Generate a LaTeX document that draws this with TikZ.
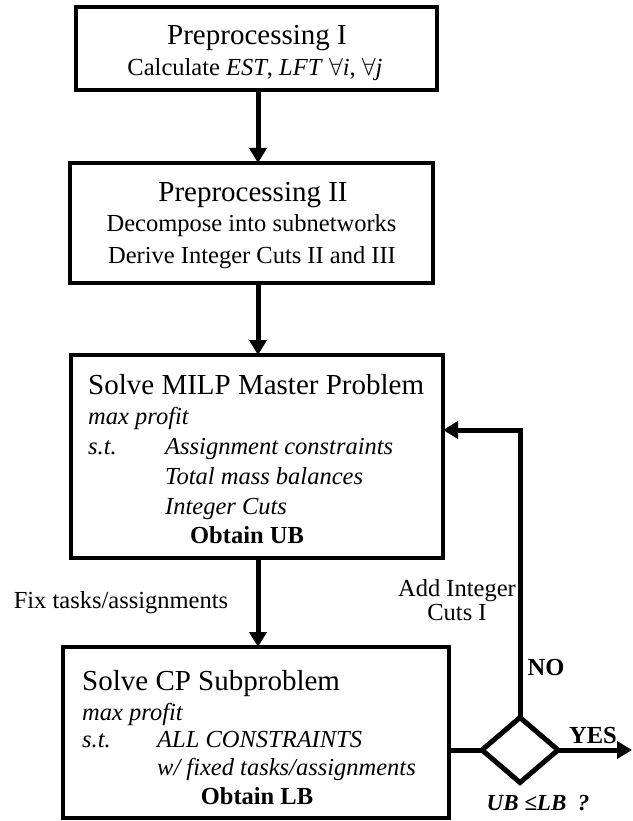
\documentclass[tikz,border=0pt]{standalone}
\usepackage{fontspec}
\setmainfont{Liberation Serif}
\usetikzlibrary{shapes.geometric,arrows.meta}
\begin{document}
\begin{tikzpicture}[x=1pt,y=-1pt,
  box/.style={draw, line width=4pt, inner sep=0pt, outer sep=0pt},
  ttl/.style={font=\fontsize{29}{34}\selectfont, inner sep=0pt, text height=19pt, text depth=0pt},
  txt/.style={font=\fontsize{24.5}{29}\selectfont, inner sep=0pt, text height=16pt, text depth=0pt},
  arr/.style={line width=5pt, -{Triangle[length=15pt,width=17pt]}},
  ln/.style={line width=5pt},
]
\useasboundingbox (0,0) rectangle (632,821);
% boxes
\node[box, minimum width=361pt, minimum height=83pt] (p1) at (256.5,48.5) {};
\node[box, minimum width=363pt, minimum height=120pt] (p2) at (251.5,223) {};
\node[box, minimum width=372pt, minimum height=203pt] (m3) at (257,456.5) {};
\node[box, minimum width=386pt, minimum height=171pt] (m4) at (256,732.5) {};
\node[shape=diamond, draw, line width=5pt, minimum width=76pt, minimum height=65pt, inner sep=0pt, outer sep=0pt] (dm) at (520,750) {};
% box 1 text
\node[ttl] (t1a) at (257,35) {Preprocessing I};
\node[txt] (t1b) at (255,68) {Calculate \textit{EST}, \textit{LFT} $\forall$\textit{i}, $\forall$\textit{j}};
% box 2 text
\node[ttl] (t2a) at (253,192) {Preprocessing II};
\node[txt] (t2b) at (251.5,223) {Decompose into subnetworks};
\node[txt] (t2c) at (252,255) {Derive Integer Cuts II and III};
% box 3 text
\node[ttl, anchor=west] (t3a) at (88,385) {Solve MILP Master Problem};
\node[txt, anchor=west] (t3b) at (88,416) {\itshape max profit};
\node[txt, anchor=west] (t3c) at (88,446) {\itshape s.t.};
\node[txt, anchor=west] (t3d) at (165,446) {\itshape Assignment constraints};
\node[txt, anchor=west] (t3e) at (165,476) {\itshape Total mass balances};
\node[txt, anchor=west] (t3f) at (165,506) {\itshape Integer Cuts};
\node[txt] (t3g) at (247,535) {\bfseries Obtain UB};
% box 4 text
\node[ttl, anchor=west] (t4a) at (82,681) {Solve CP Subproblem};
\node[txt, anchor=west] (t4b) at (82,712) {\itshape max profit};
\node[txt, anchor=west] (t4c) at (82,739) {\itshape s.t.};
\node[txt, anchor=west] (t4d) at (157,739) {\itshape ALL CONSTRAINTS};
\node[txt, anchor=west] (t4e) at (157,767) {\itshape w/ fixed tasks/assignments};
\node[txt] (t4f) at (257,796) {\bfseries Obtain LB};
% labels
\node[txt] (lfix) at (121,600) {Fix tasks/assignments};
\node[font=\fontsize{24.5}{24}\selectfont, inner sep=0pt, align=center, anchor=north] (ladd) at (457,579) {Add Integer\\Cuts I};
\node[txt] (lno) at (546,667) {\bfseries NO};
\node[txt] (lyes) at (593,735) {\bfseries YES};
\node[font=\fontsize{23}{27}\selectfont\bfseries\itshape, inner sep=0pt, text height=15pt, text depth=0pt] (lq) at (538,803) {UB ≤LB\ \ ?};
% connectors
\coordinate (ax) at (258,0);
\coordinate (fb) at (0,430);
\coordinate (yend) at (632,750);
\draw[arr] (p1.south -| ax) -- (p2.north -| ax);
\draw[arr] (p2.south -| ax) -- (m3.north -| ax);
\draw[arr] (m3.south -| ax) -- (m4.north -| ax);
\draw[ln] (m4.east |- dm.west) -- (dm.west);
\draw[arr] (dm.north) |- (m3.east |- fb);
\draw[arr] (dm.east) -- (yend);
\end{tikzpicture}
\end{document}
